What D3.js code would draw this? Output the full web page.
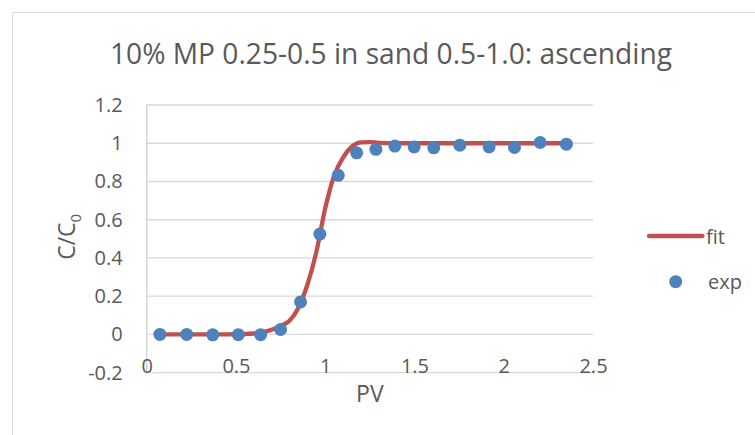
<!DOCTYPE html>
<html>
<head>
<meta charset="utf-8">
<script src="https://cdn.jsdelivr.net/npm/d3@7"></script>
<style>
  body { margin: 0; background: #fff; }
  text { font-family: "Open Sans", sans-serif; fill: #595959; }
</style>
</head>
<body>
<div id="chart"></div>
<script>
// experimental points
var expX = [0.074, 0.224, 0.37, 0.513, 0.638, 0.75, 0.862, 0.97, 1.073, 1.176, 1.284, 1.39, 1.498, 1.608, 1.754, 1.918, 2.06, 2.204, 2.351];
var expY = [0, 0, -0.002, -0.001, -0.001, 0.026, 0.17, 0.525, 0.832, 0.95, 0.968, 0.985, 0.981, 0.976, 0.99, 0.981, 0.978, 1.004, 0.995];

// fitted curve
var fitX = [0.07, 0.3, 0.5, 0.6, 0.65, 0.7, 0.75, 0.8, 0.85, 0.9, 0.95, 1.0, 1.05, 1.1, 1.15, 1.2, 1.25, 1.3, 1.4, 1.6, 2.0, 2.35];
var fitY = [0, 0, 0.001, 0.005, 0.012, 0.025, 0.045, 0.072, 0.14, 0.26, 0.43, 0.66, 0.83, 0.925, 0.983, 1.005, 1.006, 1.002, 1.0, 1.0, 1.0, 1.0];

var xTicks = [0, 0.5, 1, 1.5, 2, 2.5];
var yTicks = [-0.2, 0, 0.2, 0.4, 0.6, 0.8, 1, 1.2];

var W = 755, H = 435;
var margin = { top: 105, right: 162, bottom: 62.3, left: 146.7 },
  width = W - margin.left - margin.right,
  height = H - margin.top - margin.bottom;

var svg = d3
  .select("#chart")
  .append("svg")
  .attr("width", W)
  .attr("height", H);

// chart frame
svg
  .append("rect")
  .attr("x", 12.5)
  .attr("y", 12.5)
  .attr("width", W)
  .attr("height", H)
  .attr("fill", "none")
  .attr("stroke", "#d9d9d9");

svg
  .append("text")
  .attr("x", 391)
  .attr("y", 63.5)
  .attr("text-anchor", "middle")
  .attr("textLength", 562)
  .attr("lengthAdjust", "spacingAndGlyphs")
  .style("font-size", "29px")
  .text("10% MP 0.25-0.5 in sand 0.5-1.0: ascending");

var g = svg
  .append("g")
  .attr("transform", "translate(" + margin.left + "," + margin.top + ")");

var x = d3.scaleLinear().domain([0, 2.5]).range([0, width]);
var y = d3.scaleLinear().domain([-0.2, 1.2]).range([height, 0]);

// gridlines
g.append("g")
  .selectAll("line")
  .data(yTicks)
  .enter()
  .append("line")
  .attr("x1", 0)
  .attr("x2", width)
  .attr("y1", (d) => y(d))
  .attr("y2", (d) => y(d))
  .attr("stroke", "#d9d9d9")
  .attr("stroke-width", 1.3);

// vertical axis line
g.append("line")
  .attr("x1", 0)
  .attr("x2", 0)
  .attr("y1", 0)
  .attr("y2", height)
  .attr("stroke", "#d0d0d0")
  .attr("stroke-width", 1.3);

var yAxis = g.append("g").call(d3.axisLeft(y).tickValues(yTicks).tickSize(0).tickPadding(24).tickFormat((d) => String(d)));
yAxis.select(".domain").remove();
yAxis.selectAll("text").style("font-size", "20px").style("font-family", null);

var xAxis = g
  .append("g")
  .attr("transform", "translate(0," + height + ")")
  .call(d3.axisBottom(x).tickValues(xTicks).tickSize(0).tickFormat((d) => String(d)));
xAxis.select(".domain").remove();
xAxis.selectAll("text").attr("y", 0).attr("dy", "0.02em").style("font-size", "20px").style("font-family", null);

// axis titles
g.append("text")
  .attr("x", width / 2)
  .attr("y", height + 29)
  .attr("text-anchor", "middle")
  .style("font-size", "23px")
  .text("PV");

var yt = g
  .append("text")
  .attr("transform", "translate(" + (-71.7) + "," + (height / 2 - 2) + ") rotate(-90)")
  .attr("text-anchor", "middle")
  .style("font-size", "23px");
yt.append("tspan").text("C/C");
yt.append("tspan").attr("dy", 6).style("font-size", "15px").text("0");

// fit line
var fitData = fitX.map((d, i) => [d, fitY[i]]);
g.append("path")
  .datum(fitData)
  .attr("fill", "none")
  .attr("stroke", "#c0504d")
  .attr("stroke-width", 4.3)
  .attr("stroke-linecap", "round")
  .attr("d", d3.line().x((d) => x(d[0])).y((d) => y(d[1])).curve(d3.curveMonotoneX));

// exp points
g.append("g")
  .selectAll("circle")
  .data(expX.map((d, i) => [d, expY[i]]))
  .enter()
  .append("circle")
  .attr("cx", (d) => x(d[0]))
  .attr("cy", (d) => y(d[1]))
  .attr("r", 6.5)
  .attr("fill", "#4f81bd");

// legend
var lg = svg.append("g");
lg.append("line")
  .attr("x1", 649)
  .attr("x2", 702.5)
  .attr("y1", 236)
  .attr("y2", 236)
  .attr("stroke", "#c0504d")
  .attr("stroke-width", 4.3)
  .attr("stroke-linecap", "round");
lg.append("text").attr("x", 706).attr("y", 243.5).style("font-size", "20px").text("fit");
lg.append("circle").attr("cx", 675.7).attr("cy", 281.7).attr("r", 6.5).attr("fill", "#4f81bd");
lg.append("text").attr("x", 708).attr("y", 288.5).style("font-size", "20px").text("exp");
</script>
</body>
</html>
